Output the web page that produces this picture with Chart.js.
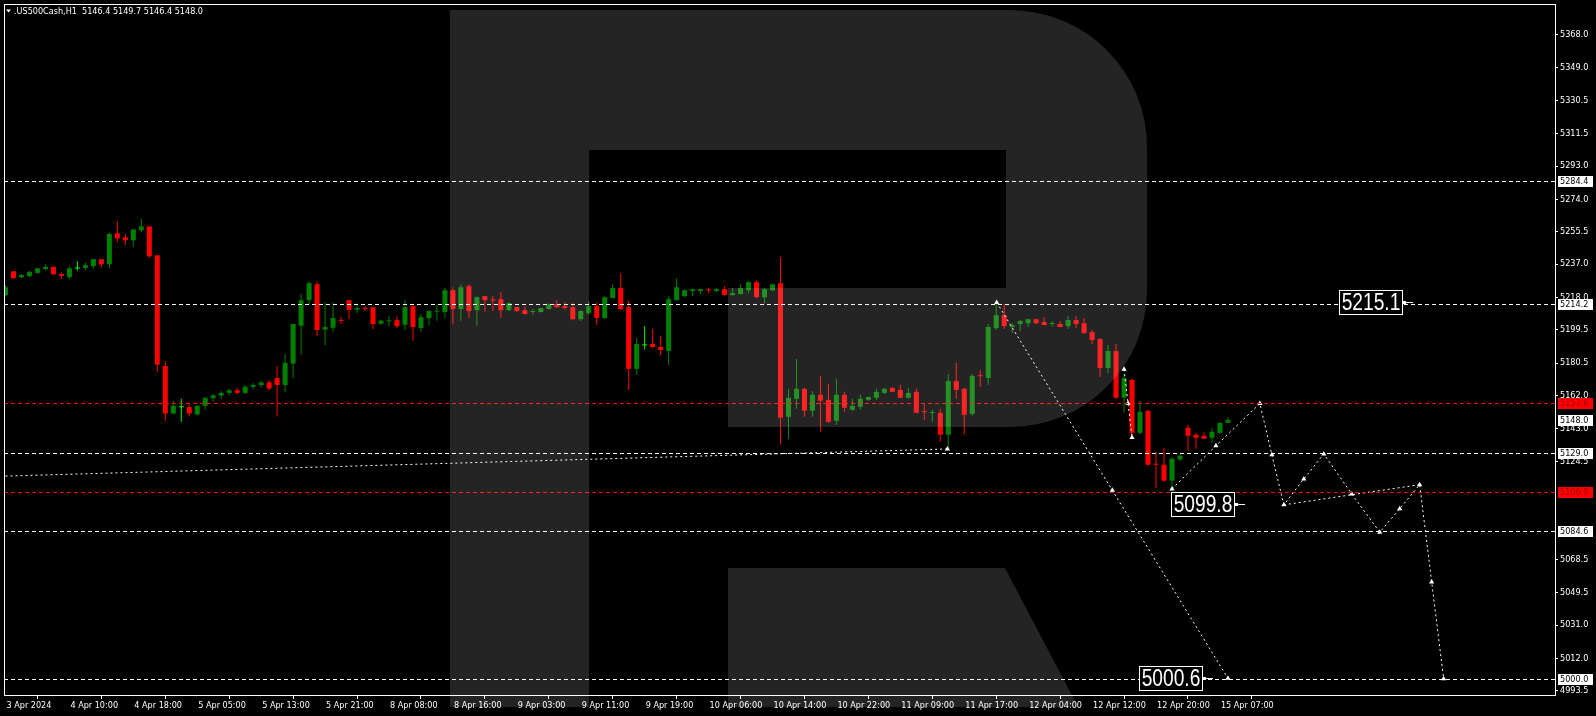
<!DOCTYPE html>
<html>
<head>
<meta charset="utf-8">
<script src="https://cdn.jsdelivr.net/npm/chart.js@4.4.1/dist/chart.umd.min.js"></script>
<style>
html, body { margin: 0; padding: 0; background: #000; overflow: hidden; }
canvas { display: block; }
</style>
</head>
<body>
<canvas id="chart" width="1596" height="716"></canvas>
<script>
// .US500Cash H1 candles, 3 Apr 2024 .. 15 Apr 07:00
const opens = [
  5219.3,5232.9,5229.5,5230.1,5232.0,5234.1,5235.4,5231.4,5229.5,5234.5,
  5234.8,5235.8,5239.8,5236.9,5254.6,5252.3,5250.6,5256.3,5258.5,5242.0,
  5178.9,5151.7,5155.3,5155.5,5151.2,5156.1,5160.5,5162.0,5163.5,5165.0,
  5163.5,5167.0,5168.0,5169.5,5172.0,5168.0,5180.2,5201.8,5216.4,5225.5,
  5199.6,5200.7,5204.9,5216.4,5210.9,5211.7,5212.4,5203.0,5204.3,5205.0,
  5202.4,5213.0,5200.5,5206.2,5209.9,5209.6,5222.1,5211.3,5224.4,5210.7,
  5218.7,5216.4,5217.0,5210.7,5212.4,5210.7,5209.7,5209.6,5211.3,5214.2,
  5213.0,5212.4,5205.6,5209.0,5213.0,5206.2,5217.6,5223.3,5212.4,5177.2,
  5190.6,5191.4,5189.7,5187.4,5216.4,5218.7,5221.6,5221.6,5222.2,5221.6,
  5222.7,5219.3,5219.9,5222.1,5226.7,5218.1,5222.1,5226.1,5149.8,5160.1,
  5165.8,5153.3,5162.4,5159.5,5147.6,5162.4,5153.8,5155.5,5159.5,5160.7,
  5163.5,5166.3,5165.2,5160.7,5164.1,5152.7,5152.0,5152.1,5139.6,5170.3,
  5165.8,5151.5,5173.2,5172.0,5200.5,5207.9,5201.1,5202.8,5203.3,5205.6,
  5203.9,5202.8,5202.8,5201.6,5205.1,5203.3,5198.2,5194.2,5177.7,5187.4,
  5160.7,5170.9,5140.7,5153.3,5122.7,5122.5,5113.4,5125.4,5143.6,5139.6,
  5139.0,5137.9,5140.7,5146.4
];
const highs = [
  5225.0,5232.9,5231.4,5233.1,5234.8,5236.9,5235.6,5232.0,5235.8,5238.6,
  5238.1,5239.8,5239.9,5255.1,5261.4,5254.4,5256.8,5263.1,5258.6,5242.1,
  5181.7,5159.0,5160.1,5157.0,5156.2,5160.8,5163.0,5164.5,5166.0,5166.5,
  5168.0,5169.0,5170.5,5171.0,5178.9,5185.7,5202.8,5220.0,5227.2,5227.2,
  5215.3,5215.3,5206.9,5216.5,5214.5,5213.0,5212.5,5205.0,5207.3,5207.3,
  5216.4,5214.0,5208.5,5210.6,5214.0,5223.3,5223.8,5225.5,5225.5,5218.7,
  5218.8,5218.7,5221.0,5215.3,5212.5,5213.0,5211.3,5211.9,5214.7,5216.4,
  5215.3,5214.7,5210.7,5215.9,5215.3,5218.7,5225.5,5231.8,5215.9,5194.8,
  5201.6,5199.9,5195.9,5218.7,5229.0,5222.7,5222.8,5222.8,5223.3,5223.3,
  5224.4,5223.3,5225.5,5227.3,5227.8,5223.3,5225.6,5240.9,5165.8,5182.9,
  5166.4,5164.6,5173.2,5168.6,5171.5,5164.1,5160.1,5162.4,5161.3,5165.8,
  5166.3,5166.9,5168.1,5166.3,5165.8,5157.2,5153.8,5154.4,5174.3,5180.6,
  5166.3,5174.3,5176.6,5202.8,5215.1,5214.2,5203.3,5205.1,5205.7,5205.7,
  5206.8,5204.5,5204.5,5207.3,5207.3,5206.2,5199.4,5194.8,5190.8,5191.4,
  5174.1,5171.5,5159.0,5153.8,5129.9,5132.2,5127.1,5128.2,5145.3,5140.7,
  5141.3,5143.6,5146.4,5149.7
];
const lows = [
  5218.7,5228.6,5228.8,5229.5,5231.4,5233.5,5230.8,5228.6,5228.6,5233.3,
  5233.5,5234.3,5235.2,5234.8,5249.6,5247.9,5246.8,5255.1,5240.5,5175.6,
  5147.6,5151.4,5147.0,5150.0,5150.6,5153.8,5158.5,5160.0,5162.0,5162.5,
  5163.0,5165.5,5166.5,5165.0,5150.0,5164.0,5172.0,5185.3,5214.0,5196.0,
  5190.8,5198.4,5202.8,5205.6,5209.0,5210.2,5199.9,5202.4,5201.6,5200.5,
  5199.4,5193.3,5198.4,5201.8,5204.7,5206.2,5203.0,5204.7,5206.2,5201.8,
  5209.8,5210.2,5206.2,5210.3,5209.6,5208.4,5208.1,5209.5,5211.2,5212.3,
  5211.1,5205.0,5204.5,5207.9,5202.2,5205.6,5217.5,5210.7,5165.2,5173.8,
  5188.4,5189.1,5185.1,5179.4,5215.9,5218.1,5218.7,5219.8,5220.4,5221.0,
  5219.2,5219.2,5219.8,5220.4,5217.6,5214.7,5221.6,5133.9,5137.3,5154.4,
  5149.9,5149.9,5141.3,5146.4,5145.3,5152.7,5153.3,5153.8,5159.0,5159.5,
  5162.9,5164.0,5160.6,5160.1,5152.0,5148.1,5147.0,5135.6,5132.4,5160.1,
  5139.6,5150.4,5166.9,5168.1,5199.4,5199.9,5197.7,5198.8,5201.1,5202.8,
  5202.1,5201.4,5201.0,5199.9,5200.5,5197.1,5191.4,5172.6,5174.9,5160.1,
  5152.1,5139.6,5139.6,5122.0,5109.4,5112.8,5107.7,5124.8,5130.5,5131.6,
  5137.2,5135.0,5140.2,5146.4
];
const closes = [
  5223.8,5229.0,5230.7,5232.6,5234.6,5235.4,5231.2,5230.3,5234.6,5234.5,
  5236.4,5239.8,5236.9,5254.2,5251.7,5250.6,5256.8,5258.5,5241.5,5179.6,
  5151.7,5156.1,5155.3,5151.7,5156.1,5160.7,5162.0,5163.5,5165.0,5163.5,
  5167.0,5168.0,5169.5,5166.0,5168.0,5180.6,5202.8,5216.4,5226.1,5199.4,
  5201.1,5206.2,5204.6,5210.9,5211.9,5211.5,5202.8,5204.7,5204.5,5201.6,
  5212.4,5201.1,5206.7,5210.2,5210.1,5222.1,5211.3,5223.8,5210.2,5218.1,
  5216.4,5216.2,5210.7,5214.7,5210.2,5208.5,5209.9,5211.9,5214.0,5212.4,
  5211.9,5205.6,5210.2,5213.0,5206.2,5218.1,5223.3,5211.3,5177.2,5191.4,
  5190.6,5189.7,5188.0,5217.0,5223.8,5222.1,5222.7,5222.7,5222.0,5222.7,
  5219.3,5220.4,5223.3,5226.7,5218.1,5222.7,5225.5,5149.3,5160.7,5165.8,
  5153.3,5162.4,5159.0,5147.0,5162.4,5155.0,5156.1,5160.1,5161.2,5164.1,
  5165.8,5164.1,5160.7,5163.5,5152.1,5152.5,5152.2,5139.6,5170.3,5165.2,
  5151.0,5173.2,5173.0,5201.1,5207.9,5201.6,5202.2,5204.5,5205.6,5203.3,
  5202.2,5202.9,5201.1,5205.1,5202.8,5197.7,5193.7,5177.7,5187.4,5160.7,
  5172.0,5140.7,5152.7,5122.5,5122.5,5113.4,5125.9,5127.65,5139.0,5137.9,
  5137.3,5141.3,5146.4,5148.0
];

// time axis: one label every 8 bars
const timeLabels = ['3 Apr 2024','4 Apr 10:00','4 Apr 18:00','5 Apr 05:00','5 Apr 13:00',
  '5 Apr 21:00','8 Apr 08:00','8 Apr 16:00','9 Apr 03:00','9 Apr 11:00','9 Apr 19:00',
  '10 Apr 06:00','10 Apr 14:00','10 Apr 22:00','11 Apr 09:00','11 Apr 17:00',
  '12 Apr 04:00','12 Apr 12:00','12 Apr 20:00','15 Apr 07:00'];
const timeTickBars = timeLabels.map((_, i) => i * 8);

// price axis (the two under the 5106.9 / 5084.6 tags are hidden in the original)
const priceTicks = [5368.0,5349.0,5330.5,5311.5,5293.0,5274.0,5255.5,5237.0,5218.0,5199.5,
  5180.5,5162.0,5143.0,5124.5,5068.5,5049.5,5031.0,5012.0,4993.5];

// horizontal levels and price tags on the axis
const levels = [5284.4, 5214.2, 5157.6, 5129.0, 5106.9, 5084.6, 5000.0];
const redLevels = [5157.6, 5106.9];
const priceTags = [5284.4, 5214.2, 5157.6, 5148.0, 5129.0, 5106.9, 5084.6, 5000.0];

// forecast paths (bar index, price)
const pathUpBars = [146, 151.5, 157, 158.5, 160, 162.5, 165, 168.5, 172, 174.5, 177, 178.5, 180];
const pathUpPrices = [5108.7, 5133.3, 5157.4, 5128.2, 5099.6, 5114.4, 5128.6, 5105.8, 5084.0, 5097.3, 5111.1, 5055.6, 5000.3];
const pathDownBars = [124.06, 138.53, 153];
const pathDownPrices = [5215.1, 5107.9, 5000.6];
const pathShortBars = [140, 140.5, 141];
const pathShortPrices = [5177.0, 5157.6, 5138.0];
const wedgeBars = [160, 177];
const wedgePrices = [5099.6, 5111.1];
const trendBars = [0, 117.9];
const trendPrices = [5116.0, 5131.5];

// big target labels
const noteValues = [5215.1, 5099.8, 5000.6];
const noteBars = [176, 155, 151];

const title = '.US500Cash,H1  5146.4 5149.7 5146.4 5148.0';

const FONT = 'DejaVu Sans Condensed';
const GREEN = '#008000', RED = '#ff0000', DOJI = '#00ff00';

function candleColor(i) {
  if (opens[i] === closes[i]) return DOJI;
  return closes[i] > opens[i] ? GREEN : RED;
}
const colors = opens.map((_, i) => candleColor(i));

function pts(bx, py) { return bx.map((b, i) => ({ x: b, y: py[i] })); }

function forecast(data, radius) {
  return {
    type: 'line',
    data: data,
    borderColor: '#fff',
    borderWidth: 1,
    borderDash: [2, 3],
    pointStyle: 'triangle',
    pointRadius: radius,
    pointBackgroundColor: '#fff',
    pointBorderColor: '#fff',
    pointBorderWidth: 0,
    tension: 0,
    fill: false,
    order: -1
  };
}

function drawLogo(ctx) {
  ctx.save();
  ctx.fillStyle = 'rgba(255,255,255,0.14)';
  ctx.beginPath();
  ctx.moveTo(450, 10);
  ctx.lineTo(1010, 10);
  ctx.arc(1010, 147, 137, -Math.PI / 2, 0);
  ctx.lineTo(1147, 290);
  ctx.arc(1010, 290, 137, 0, Math.PI / 2);
  ctx.lineTo(728, 427);
  ctx.lineTo(728, 288);
  ctx.lineTo(1006, 288);
  ctx.lineTo(1006, 150);
  ctx.lineTo(589, 150);
  ctx.lineTo(589, 707);
  ctx.lineTo(450, 707);
  ctx.closePath();
  ctx.moveTo(728, 568);
  ctx.lineTo(1005, 568);
  ctx.lineTo(1078, 707);
  ctx.lineTo(728, 707);
  ctx.closePath();
  ctx.fill();
  ctx.restore();
}

const mt4Plugin = {
  id: 'mt4',
  beforeDraw(chart) {
    const ctx = chart.ctx;
    ctx.save();
    ctx.fillStyle = '#000';
    ctx.fillRect(0, 0, chart.width, chart.height);
    ctx.restore();
  },
  afterDatasetsDraw(chart) {
    const ctx = chart.ctx, a = chart.chartArea, ys = chart.scales.y;
    ctx.save();
    ctx.lineWidth = 1;
    ctx.setLineDash([4, 3]);
    levels.forEach(v => {
      const y = Math.round(ys.getPixelForValue(v)) + 0.5;
      ctx.strokeStyle = redLevels.includes(v) ? RED : '#fff';
      ctx.beginPath();
      ctx.moveTo(a.left, y);
      ctx.lineTo(a.right, y);
      ctx.stroke();
    });
    ctx.restore();
  },
  afterDraw(chart) {
    const ctx = chart.ctx, a = chart.chartArea, xs = chart.scales.x, ys = chart.scales.y;
    ctx.save();
    // plot frame (top, left)
    ctx.fillStyle = '#fff';
    ctx.fillRect(a.left, a.top, a.right - a.left, 1);
    ctx.fillRect(a.left, a.top, 1, a.bottom - a.top);

    // price tags on the axis
    ctx.font = '9px "' + FONT + '"';
    ctx.textBaseline = 'middle';
    ctx.textAlign = 'left';
    priceTags.forEach(v => {
      const y = Math.round(ys.getPixelForValue(v));
      const red = redLevels.includes(v);
      ctx.fillStyle = red ? RED : '#fff';
      ctx.fillRect(a.right + 3, y - 5, 35, 11);
      ctx.fillStyle = red ? '#a00000' : '#000';
      ctx.fillText(v.toFixed(1), a.right + 5, y + 0.5);
    });

    // big target notes
    noteValues.forEach((v, i) => {
      const tip = Math.round(xs.getPixelForValue(noteBars[i]));
      const y = Math.round(ys.getPixelForValue(v));
      const right = tip - 10, left = right - 63;
      ctx.fillStyle = '#000';
      ctx.fillRect(left, y - 12, 63, 24);
      ctx.strokeStyle = '#fff';
      ctx.lineWidth = 1;
      ctx.strokeRect(left + 0.5, y - 11.5, 63, 24);
      ctx.fillStyle = '#fff';
      ctx.save();
      ctx.translate(left + 32, y + 1);
      ctx.scale(0.8, 1);
      ctx.font = '24px "Liberation Sans"';
      ctx.textAlign = 'center';
      ctx.textBaseline = 'middle';
      ctx.fillText(v.toFixed(1), 0, 0);
      ctx.restore();
      ctx.fillRect(right + 1, y - 1, 3, 3);
      ctx.fillRect(right + 4, y, 7, 1);
    });

    // title
    ctx.fillStyle = '#fff';
    ctx.beginPath();
    ctx.moveTo(6, 9.5);
    ctx.lineTo(11, 9.5);
    ctx.lineTo(8.5, 12.5);
    ctx.closePath();
    ctx.fill();
    ctx.font = '9px "' + FONT + '"';
    ctx.textAlign = 'left';
    ctx.textBaseline = 'middle';
    ctx.fillText(title, 14, 12);
    ctx.restore();

    drawLogo(ctx);
  }
};

const xMin = -0.1875, xMax = 193.9375;

new Chart(document.getElementById('chart'), {
  type: 'bar',
  data: {
    datasets: [
      {
        data: opens.map((o, i) => ({ x: i, y: [o, closes[i]] })),
        backgroundColor: colors,
        barThickness: 5,
        minBarLength: 1,
        grouped: false,
        inflateAmount: 0,
        borderWidth: 0,
        order: 0
      },
      {
        data: lows.map((l, i) => ({ x: i, y: [l, highs[i]] })),
        backgroundColor: colors,
        barThickness: 1,
        grouped: false,
        inflateAmount: 0,
        borderWidth: 0,
        order: 1
      },
      forecast(pts(pathUpBars, pathUpPrices), 3),
      forecast(pts(pathDownBars, pathDownPrices), 3),
      forecast(pts(pathShortBars, pathShortPrices), 3),
      forecast(pts(wedgeBars, wedgePrices), 0),
      forecast(pts(trendBars, trendPrices), [0, 3])
    ]
  },
  options: {
    responsive: false,
    animation: false,
    devicePixelRatio: 1,
    events: [],
    layout: { padding: { left: 2, top: 2, right: 0, bottom: 0 } },
    plugins: { legend: { display: false }, tooltip: { enabled: false } },
    scales: {
      x: {
        type: 'linear',
        position: 'bottom',
        min: xMin,
        max: xMax,
        offset: false,
        afterBuildTicks: s => { s.ticks = timeTickBars.map(v => ({ value: v })); },
        afterFit: s => { s.height = 21; s.paddingLeft = 0; s.paddingRight = 0; },
        ticks: {
          callback: (v, i) => timeLabels[i],
          autoSkip: false,
          maxRotation: 0,
          minRotation: 0,
          align: 'start',
          labelOffset: 1,
          padding: 1,
          color: '#fff',
          font: { family: FONT, size: 9 }
        },
        grid: { drawOnChartArea: false, drawTicks: true, tickLength: 4, color: '#fff' },
        border: { display: true, color: '#fff' }
      },
      y: {
        type: 'linear',
        position: 'right',
        min: 4991.05,
        max: 5385.47,
        afterBuildTicks: s => { s.ticks = priceTicks.map(v => ({ value: v })); },
        afterFit: s => { s.width = 41; s.paddingTop = 0; s.paddingBottom = 0; },
        ticks: {
          callback: v => v.toFixed(1),
          autoSkip: false,
          padding: 2,
          color: '#fff',
          font: { family: FONT, size: 9 }
        },
        grid: { drawOnChartArea: false, drawTicks: true, tickLength: 3, color: '#fff' },
        border: { display: true, color: '#fff' }
      }
    }
  },
  plugins: [mt4Plugin]
});
</script>
</body>
</html>
